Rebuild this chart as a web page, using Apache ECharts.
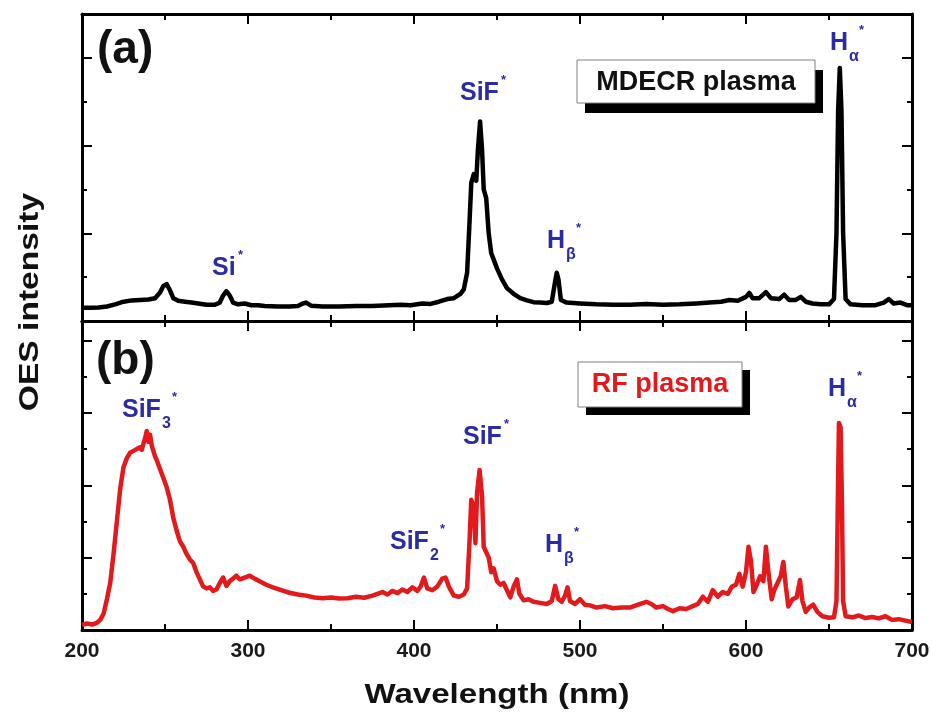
<!DOCTYPE html>
<html><head><meta charset="utf-8">
<script src="https://cdn.jsdelivr.net/npm/echarts@6/dist/echarts.min.js"></script>
<style>html,body{margin:0;padding:0;background:#fff}#c{width:932px;height:712px}</style>
</head><body><div id="c"></div>
<script>
const xTickLabels = [200, 300, 400, 500, 600, 700];

const mdecrWavelength = [200,205,210,215,220,225,230,235,240,244,
247,249,251,253,255,258,262,266,270,275,
280,283,285,287,289,291,294,298,302,306,
310,318,325,330,333,335,338,345,355,365,
375,385,392,398,405,410,415,420,424,428,
430,432,433.5,434.5,436,437.5,438.5,439.8,441,442,
443.5,445,446.5,448,450,453,456,460,464,468,
472,476,480,483,485,486,487,488.5,492,500,
510,520,530,540,550,560,570,578,585,590,
595,600,602,604,608,612,615,620,623,626,
630,633,636,640,645,650,653,654.5,655.5,656.5,
657.5,658.5,660,663,670,678,683,686,689,693,
697,700];
const mdecrIntensity = [0.30,0.30,0.31,0.33,0.38,0.44,0.47,0.48,0.49,0.52,
0.65,0.80,0.84,0.70,0.52,0.46,0.44,0.42,0.40,0.37,
0.37,0.42,0.58,0.68,0.58,0.42,0.38,0.40,0.36,0.36,
0.34,0.33,0.33,0.34,0.40,0.42,0.35,0.33,0.33,0.34,
0.34,0.36,0.37,0.36,0.40,0.39,0.44,0.50,0.52,0.62,
0.72,1.10,2.30,3.15,3.35,3.20,3.90,4.55,3.90,3.00,
2.80,2.00,1.55,1.40,1.20,0.95,0.75,0.62,0.52,0.47,
0.43,0.42,0.41,0.44,0.90,1.10,0.95,0.48,0.42,0.40,
0.38,0.37,0.37,0.39,0.37,0.38,0.40,0.42,0.44,0.48,
0.46,0.55,0.64,0.52,0.52,0.66,0.52,0.50,0.60,0.48,
0.48,0.55,0.44,0.40,0.38,0.38,0.50,2.00,4.80,5.77,
4.80,2.00,0.50,0.38,0.36,0.36,0.42,0.50,0.40,0.42,
0.36,0.36];

const rfWavelength = [200,203,206,209,211,213,215,217,219,221,
223,225,227,229,231,233,235,236,237,238,
239,240,241,242,243,244,245,247,249,251,
253,255,257,259,261,263,265,267,269,271,
273,275,277,279,281,283,285,287,289,291,
293,295,298,301,304,307,311,315,320,325,
330,335,340,345,350,355,360,365,370,375,
378,381,384,387,390,393,396,399,402,404,
406,408,411,414,417,419,421,424,427,430,
432,433.5,434.5,436,437,438,439.5,441,442,443.5,
445,446.5,448,450,452,454,456,458,460,462,
463.5,466,469,472,476,480,483,485,487,489,
491,492.5,494,497,500,503,506,510,515,520,
525,530,535,540,543,546,550,553,556,560,
564,568,571,574,577,580,583,586,589,591.5,
594,596,598,600,601.5,603,604.5,606,608.5,610.5,
612,613.5,615.5,617,619,621,622.5,624,625.5,628,
630.5,632.5,634,636,638,640.5,643,646,650,653,
654.5,655.3,656,657,657.8,658.5,660,664,668,672,
676,680,684,688,692,696,700];
const rfIntensity = [0.14,0.18,0.15,0.20,0.28,0.45,0.85,1.30,2.10,3.00,
3.90,4.50,4.75,4.90,4.95,5.00,5.05,4.98,5.15,5.30,
5.50,5.20,5.40,5.10,5.05,4.80,4.70,4.45,4.20,3.95,
3.60,3.10,2.75,2.45,2.30,2.10,1.95,1.85,1.60,1.40,
1.20,1.15,1.18,1.08,1.12,1.30,1.45,1.22,1.35,1.42,
1.50,1.40,1.45,1.50,1.42,1.35,1.25,1.18,1.10,1.03,
0.98,0.95,0.90,0.88,0.90,0.87,0.88,0.92,0.89,0.95,
1.00,1.05,0.98,1.08,1.02,1.12,1.05,1.18,1.08,1.20,
1.45,1.15,1.10,1.20,1.42,1.45,1.20,0.95,0.92,0.98,
1.15,2.50,3.60,3.40,2.40,3.80,4.42,3.70,2.30,2.15,
2.00,1.60,1.70,1.35,1.25,1.30,1.10,0.90,1.20,1.40,
1.00,0.82,0.85,0.78,0.75,0.72,0.80,1.22,0.85,0.78,
0.95,1.18,0.80,0.72,0.85,0.70,0.68,0.62,0.66,0.60,
0.62,0.62,0.70,0.78,0.72,0.62,0.66,0.58,0.52,0.60,
0.58,0.66,0.72,0.92,0.78,1.10,0.92,1.05,1.00,1.20,
1.25,1.55,1.20,1.60,2.30,1.90,1.05,1.20,1.48,1.35,
2.30,1.60,0.85,1.10,1.30,1.50,1.88,1.20,0.65,0.85,
0.90,1.38,0.80,0.50,0.62,0.70,0.50,0.38,0.34,0.35,
0.80,3.50,5.72,5.60,3.50,0.80,0.38,0.35,0.40,0.33,
0.36,0.32,0.38,0.28,0.30,0.26,0.22];

const FONT = '"Liberation Sans", Arial, Helvetica, sans-serif';
const BLUE = '#2b2ba3';
const RED = '#e3191c';

function xAx(grid, pos, showLabel) {
  return {
    type: 'value', gridIndex: grid, position: pos, min: 200, max: 700, interval: 100,
    axisLine: { show: true, onZero: false, lineStyle: { color: '#000', width: 3 } },
    axisTick: { show: true, inside: true, length: 10, lineStyle: { color: '#000', width: 2 } },
    minorTick: { show: true, splitNumber: 2, length: 6, lineStyle: { color: '#000', width: 2 } },
    splitLine: { show: false }, minorSplitLine: { show: false },
    axisLabel: {
      show: showLabel, margin: 11, color: '#1a1a1a', fontSize: 21, fontWeight: 'bold', fontFamily: FONT,
      formatter: v => (xTickLabels.indexOf(v) >= 0 ? String(v) : '')
    }
  };
}
function yAx(grid, pos, max, interval, len, line) {
  return {
    type: 'value', gridIndex: grid, position: pos, min: 0, max: max, interval: interval,
    axisLine: { show: line, onZero: false, lineStyle: { color: '#000', width: 3 } },
    axisTick: { show: true, inside: true, length: len, lineStyle: { color: '#000', width: 2 } },
    splitLine: { show: false }, axisLabel: { show: false }
  };
}
function txt(x, y, s, size, color, align) {
  return {
    type: 'text', x: x, y: y, z: 100,
    style: {
      text: s, font: 'bold ' + size + 'px ' + FONT, fill: color,
      textAlign: align || 'left', align: align || 'left',
      textVerticalAlign: 'middle', verticalAlign: 'middle'
    }
  };
}
function species(x, y, main, sub, sup, mainW) {
  const out = [txt(x, y, main, 25, BLUE)];
  if (sub) out.push(txt(x + mainW + 1, y + 14, sub, 16, BLUE));
  out.push(txt(x + mainW + (sub ? 11 : 2), y - 13, sup, 13, BLUE));
  return out;
}

const panelAMax = 7;
const panelBMax = 8.54;

const chart = echarts.init(document.getElementById('c'), null, { renderer: 'canvas' });
chart.setOption({
  animation: false,
  backgroundColor: '#fff',
  grid: [
    { left: 82, right: 20, top: 14, height: 307, outerBoundsMode: 'none' },
    { left: 82, right: 20, top: 321, height: 309, outerBoundsMode: 'none' }
  ],
  xAxis: [xAx(0, 'bottom', false), xAx(0, 'top', false), xAx(1, 'bottom', true), xAx(1, 'top', false)],
  yAxis: [
    yAx(0, 'left', panelAMax, 2, 10, true), yAx(0, 'left', panelAMax, 1, 5, false),
    yAx(0, 'right', panelAMax, 2, 10, true), yAx(0, 'right', panelAMax, 1, 5, false),
    yAx(1, 'left', panelBMax, 2, 10, true), yAx(1, 'left', panelBMax, 1, 5, false),
    yAx(1, 'right', panelBMax, 2, 10, true), yAx(1, 'right', panelBMax, 1, 5, false)
  ],
  series: [
    {
      name: 'MDECR plasma', type: 'line', xAxisIndex: 0, yAxisIndex: 0,
      data: mdecrWavelength.map((w, i) => [w, mdecrIntensity[i]]),
      symbol: 'none', lineStyle: { color: '#000', width: 4.5, join: 'round' }, z: 5
    },
    {
      name: 'RF plasma', type: 'line', xAxisIndex: 2, yAxisIndex: 4,
      data: rfWavelength.map((w, i) => [w, rfIntensity[i]]),
      symbol: 'none', lineStyle: { color: RED, width: 4.5, join: 'round' }, z: 5
    }
  ],
  graphic: [
    // panel labels
    txt(97, 50, '(a)', 46, '#111'),
    txt(96, 361, '(b)', 46, '#111'),
    // legend-like boxes
    { type: 'rect', z: 90, shape: { x: 585, y: 70, width: 238, height: 43 }, style: { fill: '#000' } },
    { type: 'rect', z: 91, shape: { x: 577, y: 60, width: 238, height: 43 }, style: { fill: '#fff', stroke: '#808080', lineWidth: 1 } },
    txt(696, 83, 'MDECR plasma', 27, '#111', 'center'),
    { type: 'rect', z: 90, shape: { x: 586, y: 370, width: 164, height: 45 }, style: { fill: '#000' } },
    { type: 'rect', z: 91, shape: { x: 578, y: 362, width: 164, height: 45 }, style: { fill: '#fff', stroke: '#808080', lineWidth: 1 } },
    txt(660, 385, 'RF plasma', 27, RED, 'center'),
    // species annotations, panel (a)
    ...species(212, 268, 'Si', null, '*', 24),
    ...species(460, 93, 'SiF', null, '*', 39),
    ...species(547, 241, 'H', 'β', '*', 18),
    ...species(830, 43, 'H', 'α', '*', 18),
    // panel (b)
    ...species(122, 410, 'SiF', '3', '*', 39),
    ...species(390, 542, 'SiF', '2', '*', 39),
    ...species(463, 437, 'SiF', null, '*', 39),
    ...species(545, 545, 'H', 'β', '*', 18),
    ...species(828, 389, 'H', 'α', '*', 18),
    // axis titles
    {
      type: 'text', x: 497, y: 695, scaleX: 1.18, z: 100,
      style: { text: 'Wavelength (nm)', font: 'bold 28px ' + FONT, fill: '#111',
        textAlign: 'center', align: 'center', textVerticalAlign: 'middle', verticalAlign: 'middle' }
    },
    {
      type: 'text', x: 30, y: 302, rotation: Math.PI / 2, scaleX: 1.2, z: 100,
      style: { text: 'OES intensity', font: 'bold 28px ' + FONT, fill: '#111',
        textAlign: 'center', align: 'center', textVerticalAlign: 'middle', verticalAlign: 'middle' }
    }
  ]
});
</script>
</body></html>
